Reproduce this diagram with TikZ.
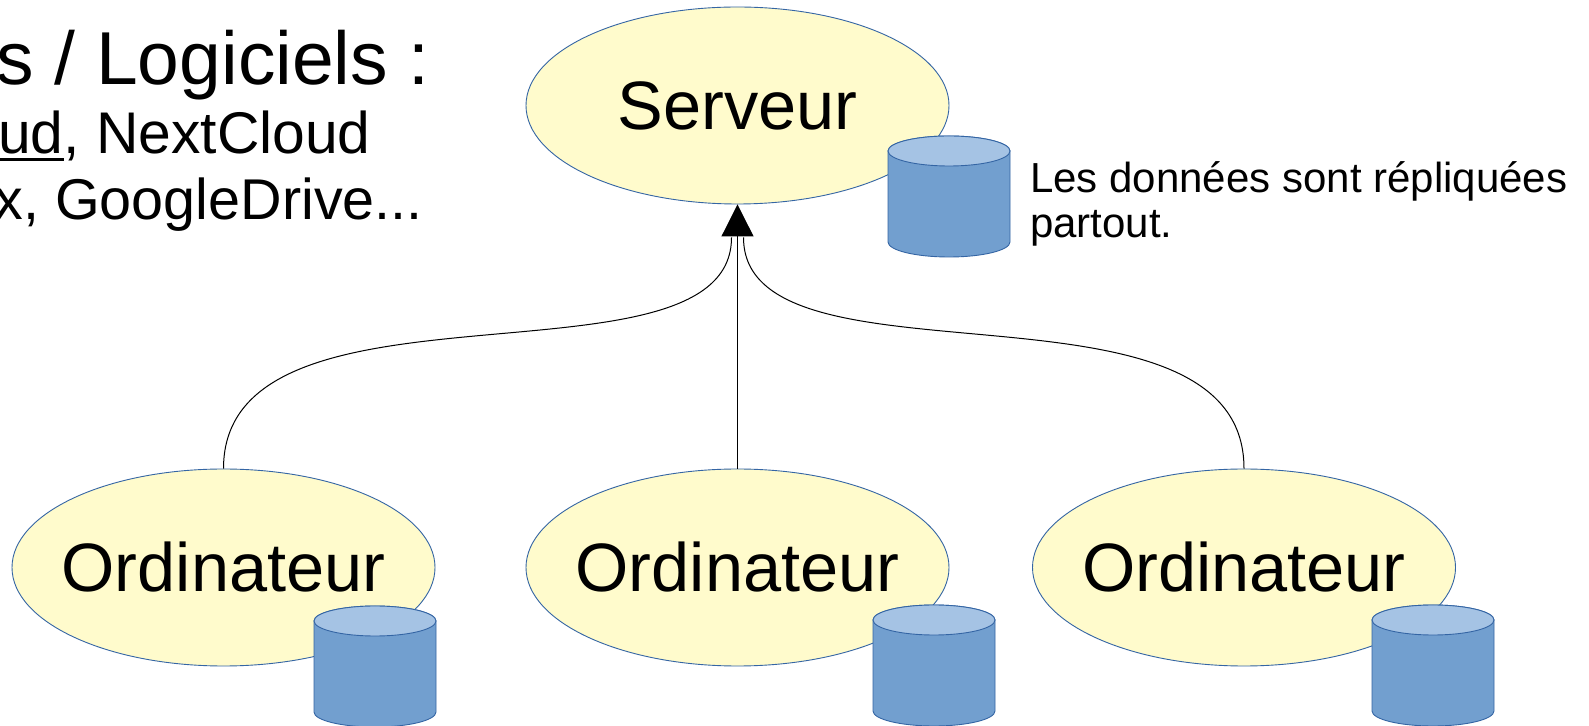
\documentclass[tikz,border=0pt]{standalone}
\usepackage{fontspec}
\setmainfont{Liberation Sans}
\usetikzlibrary{arrows.meta,shapes.geometric,calc}
\definecolor{ellfill}{HTML}{FFFBCC}
\definecolor{ellline}{HTML}{3465A4}
\definecolor{cylbody}{HTML}{729FCF}
\definecolor{cyltop}{HTML}{A5C3E4}
\newcommand\myul[1]{\setbox0\hbox{#1}\rlap{\rule[-7pt]{\wd0}{2.6pt}}\box0}
\newcommand\dbcyl[3]{%
  \begin{scope}[shift={(#2,#3)}]
    \path[fill=cylbody, draw=ellline, line width=0.9pt] (0,-15) -- (0,-106)
      arc[start angle=180, end angle=360, x radius=61, y radius=15] -- (122,-15)
      arc[start angle=0, end angle=180, x radius=61, y radius=15] -- cycle;
    \path[fill=cyltop, draw=ellline, line width=0.9pt] (61,-15) ellipse[x radius=61, y radius=15];
    \coordinate (#1) at (61,-60);
  \end{scope}}
\begin{document}
\begin{tikzpicture}[x=1pt,y=1pt,
  machine/.style={ellipse, draw=ellline, line width=0.9pt, fill=ellfill,
    minimum width=423pt, minimum height=197pt, inner sep=0pt,
    font=\fontsize{68.5}{80}\selectfont},
  conn/.style={draw=black, line width=1pt},
  txtbig/.style={font=\fontsize{75}{86}\selectfont, inner sep=0pt},
  txtmid/.style={font=\fontsize{57.5}{66}\selectfont, inner sep=0pt},
  txtmidb/.style={font=\fontsize{58.8}{66}\selectfont, inner sep=0pt},
  txtnote/.style={font=\fontsize{42}{48}\selectfont, inner sep=0pt}]
\useasboundingbox (0,0) rectangle (1589,725);
\fill[white] (0,0) rectangle (1589,725);

% nodes
\node[machine] (srv) at (737.5,619.5) {\makebox[0pt]{Serveur}};
\node[machine] (c1) at (223.5,157.5) {\makebox[0pt]{Ordinateur}};
\node[machine] (c2) at (737.5,157.5) {\makebox[0pt]{Ordinateur}};
\node[machine] (c3) at (1244,157.5) {\makebox[0pt]{Ordinateur}};

% databases
\dbcyl{dbs}{888}{589}
\dbcyl{db1}{314}{119}
\dbcyl{db2}{873}{120}
\dbcyl{db3}{1372}{120}

% connectors
\coordinate (tipbase) at ([yshift=-33pt]srv.south);
\draw[conn] (c1.north) .. controls +(0,207) and +(0,-161) .. ([xshift=-6pt]tipbase);
\draw[conn] (c3.north) .. controls +(0,207) and +(0,-161) .. ([xshift=6pt]tipbase);
\draw[conn,-{Triangle[width=32pt,length=32pt]}] (c2.north) -- (srv.south);

% texts
\node[txtbig, anchor=base east] (t1) at (430,640) {s / Logiciels :};
\node[txtmidb, anchor=base east] (t2) at (371,571) {\myul{ud}, NextCloud};
\node[txtmid, anchor=base east] (t3) at (423,505) {x, GoogleDrive...};
\node[txtnote, anchor=base west] (r1) at (1030,532) {Les données sont répliquées};
\node[txtnote, anchor=base west] (r2) at (1030,487) {partout.};
\end{tikzpicture}
\end{document}
